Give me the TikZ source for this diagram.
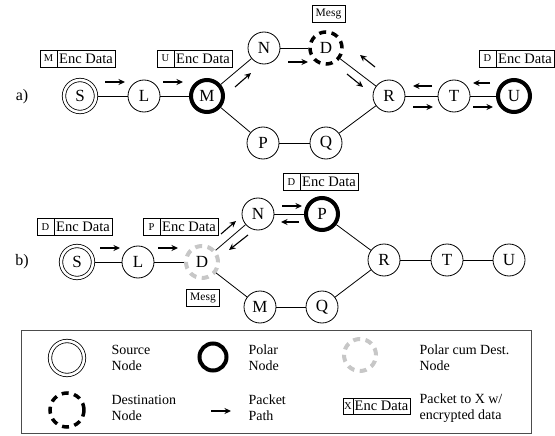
\documentclass[tikz,border=0pt]{standalone}
\usepackage{fontspec}
\setmainfont{Liberation Serif}
\usetikzlibrary{arrows.meta}
\newcommand\pktbox[4]{%
  \node[pktl] (#1l) at (#2) {#3};
  \node[pktr] (#1) at (#1l.east) {#4};}
\begin{document}
\begin{tikzpicture}[x=1pt,y=-1pt,
  nd/.style={circle,draw,line width=0.8pt,minimum size=32pt,inner sep=0pt,font=\fontsize{17}{19}\selectfont},
  src/.style={nd,double,double distance=2.6pt,outer sep=2pt},
  polar/.style={nd,line width=4pt},
  dest/.style={nd,line width=3.5pt,dash pattern=on 7pt off 5.5pt},
  pdest/.style={nd,line width=4pt,draw=black!22,dash pattern=on 7pt off 5.5pt},
  edge/.style={line width=0.8pt},
  pa/.style={line width=1.1pt,-{Stealth[length=6.5pt,width=6pt]}},
  pktl/.style={draw,line width=0.8pt,minimum width=17pt,minimum height=17pt,inner sep=0pt,outer sep=0pt,font=\fontsize{10.5}{12}\selectfont},
  pktr/.style={draw,line width=0.8pt,minimum width=58pt,minimum height=17pt,inner sep=0pt,outer sep=0pt,font=\fontsize{14.5}{16}\selectfont,anchor=west},
  mesg/.style={draw,line width=0.8pt,minimum width=33pt,minimum height=17pt,inner sep=0pt,font=\fontsize{11.5}{13}\selectfont},
  lbl/.style={font=\fontsize{16}{18}\selectfont},
  lgt/.style={anchor=west,align=left,font=\fontsize{14}{16}\selectfont}
]
\useasboundingbox (0,0) rectangle (555,436);

% ---------- panel a ----------
\node[lbl] (la) at (22,97) {a)};
\node[src] (aS) at (80,96) {S};
\node[nd] (aL) at (144,96) {L};
\node[polar] (aM) at (207,96) {M};
\node[nd] (aN) at (264,48) {N};
\node[dest] (aD) at (326,48) {D};
\node[nd] (aR) at (389,96) {R};
\node[nd] (aT) at (454,96) {T};
\node[polar] (aU) at (514,96) {U};
\node[nd] (aP) at (263,143) {P};
\node[nd] (aQ) at (326,143) {Q};
\draw[edge] (aS) -- (aL);
\draw[edge] (aL) -- (aM);
\draw[edge] (aM) -- (aN);
\draw[edge] (aN) -- (aD);
\draw[edge] (aD) -- (aR);
\draw[edge] (aR) -- (aT);
\draw[edge] (aT) -- (aU);
\draw[edge] (aM) -- (aP);
\draw[edge] (aP) -- (aQ);
\draw[edge] (aQ) -- (aR);

\pktbox{apk1}{48.5,58.5}{M}{Enc Data}
\pktbox{apk2}{165.5,58.5}{U}{Enc Data}
\pktbox{apk3}{487.5,58.5}{D}{Enc Data}
\node[mesg] (amesg) at (328.5,13.5) {Mesg};

\draw[pa] (105,82) -- (125,82);
\draw[pa] (163,82) -- (183,82);
\draw[pa] (235,87) -- (251,73);
\draw[pa] (288,62) -- (308,62);
\draw[pa] (347,74) -- (363,87);
\draw[pa] (375,67) -- (360,55);
\draw[pa] (432,86) -- (413,86);
\draw[pa] (413,107) -- (433,107);
\draw[pa] (490,83) -- (473,83);
\draw[pa] (473,107) -- (493,107);

% ---------- panel b ----------
\node[lbl] (lb) at (22,262) {b)};
\node[src] (bS) at (77,262) {S};
\node[nd] (bL) at (138,262) {L};
\node[pdest] (bD) at (202,262) {D};
\node[nd] (bN) at (258,214) {N};
\node[polar] (bP) at (322,214) {P};
\node[nd] (bM) at (260,307) {M};
\node[nd] (bQ) at (322,307) {Q};
\node[nd] (bR) at (384,260) {R};
\node[nd] (bT) at (447,260) {T};
\node[nd] (bU) at (509,260) {U};
\draw[edge] (bS) -- (bL);
\draw[edge] (bL) -- (bD);
\draw[edge] (bD) -- (bN);
\draw[edge] (bN) -- (bP);
\draw[edge] (bP) -- (bR);
\draw[edge] (bR) -- (bT);
\draw[edge] (bT) -- (bU);
\draw[edge] (bD) -- (bM);
\draw[edge] (bM) -- (bQ);
\draw[edge] (bQ) -- (bR);

\pktbox{bpk1}{45.5,227}{D}{Enc Data}
\pktbox{bpk2}{151.5,227}{P}{Enc Data}
\pktbox{bpk3}{291.5,182}{D}{Enc Data}
\node[mesg] (bmesg) at (203,298) {Mesg};

\draw[pa] (100,248) -- (120,248);
\draw[pa] (158,248) -- (178,248);
\draw[pa] (221,234) -- (236,221);
\draw[pa] (248,235) -- (229,250);
\draw[pa] (282,206) -- (302,206);
\draw[pa] (299,222) -- (281,222);

% ---------- legend ----------
\node[draw=black!70,line width=0.9pt,minimum width=510pt,minimum height=103pt,inner sep=0pt] (legend) at (276,381.5) {};
\node[circle,draw,line width=0.8pt,double,double distance=2.6pt,minimum size=34pt,inner sep=0pt] (lgS) at (67,358) {};
\node[lgt] (lgSt) at (108,358) {Source\\Node};
\node[circle,draw,line width=4pt,minimum size=27pt,inner sep=0pt] (lgP) at (213,357) {};
\node[lgt] (lgPt) at (245,358) {Polar\\Node};
\node[circle,draw=black!22,line width=4pt,dash pattern=on 7pt off 5.5pt,minimum size=32pt,inner sep=0pt] (lgPD) at (360,355) {};
\node[lgt] (lgPDt) at (416,358) {Polar cum Dest.\\Node};
\node[circle,draw,line width=3.5pt,dash pattern=on 7pt off 5.5pt,minimum size=34pt,inner sep=0pt] (lgD) at (67,410) {};
\node[lgt] (lgDt) at (108,408) {Destination\\Node};
\coordinate (lga1) at (211,411);
\coordinate (lga2) at (231,411);
\draw[pa] (lga1) -- (lga2);
\node[lgt] (lgAt) at (245,408) {Packet\\Path};
\node[pktl,minimum width=10pt,minimum height=16pt] (lgXl) at (348,406) {X};
\node[pktr,minimum width=57pt,minimum height=16pt] (lgX) at (lgXl.east) {Enc Data};
\node[lgt] (lgXt) at (416,408) {Packet to X w/\\encrypted data};
\end{tikzpicture}
\end{document}
